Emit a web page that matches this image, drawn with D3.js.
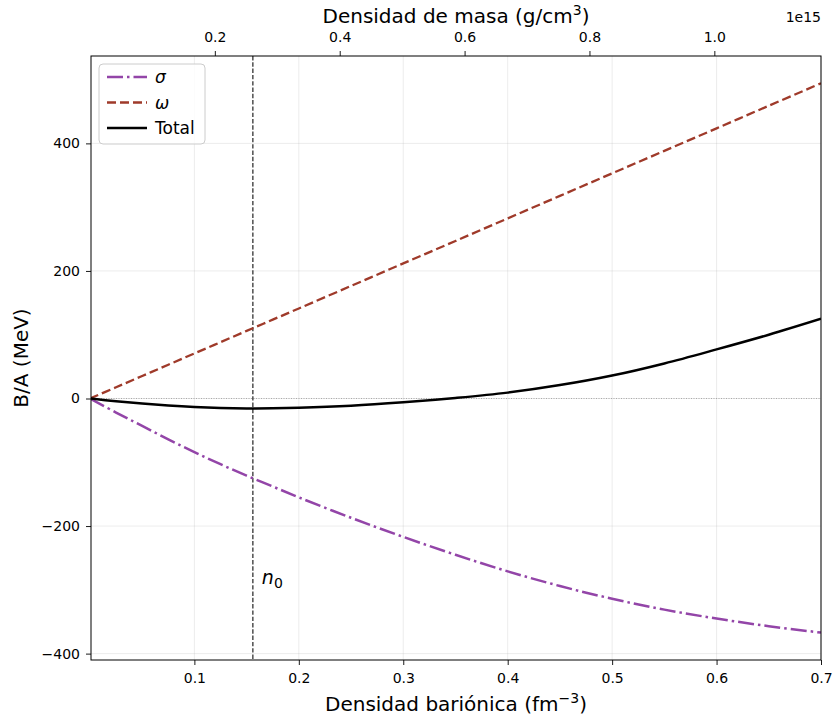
<!DOCTYPE html>
<html>
<head>
<meta charset="utf-8">
<script src="https://cdn.jsdelivr.net/npm/d3@7"></script>
<style>
  html, body { margin: 0; padding: 0; background: #fff; }
  svg { display: block; font-family: "DejaVu Sans", sans-serif; }
</style>
</head>
<body>
<div id="chart"></div>
<script>
// ---- Data ----
const density = [0, 0.025, 0.05, 0.075, 0.1, 0.125, 0.15, 0.175, 0.2, 0.25, 0.3, 0.35, 0.4, 0.45, 0.5, 0.55, 0.6, 0.65, 0.7];
const sigmaValues = [0, -22, -43, -64, -84, -103, -121, -138, -155, -187, -217, -245, -271, -294, -314, -331, -345, -357, -367];
const omegaValues = [0, 17.6, 35.3, 53, 70.6, 88.3, 106, 123.6, 141.2, 176.5, 211.8, 247, 282.4, 317.7, 353, 388.3, 423.6, 459, 494.2];
const totalValues = [0, -4.3, -8, -11, -13.3, -14.8, -15.5, -15.4, -14.6, -11.4, -6, 0.8, 9.2, 21, 36, 55, 77, 100, 125];
const seriesNames = ["σ", "ω", "Total"];
const xTicks = [0.1, 0.2, 0.3, 0.4, 0.5, 0.6, 0.7];
const yTicks = [-400, -200, 0, 200, 400];
const topTicks = [0.2, 0.4, 0.6, 0.8, 1.0];   // in units of 1e15 g/cm^3
const massFactor = 1.6726;                    // 1 fm^-3 -> 1.6726e15 g/cm^3
const n0 = 0.156;

// ---- Layout ----
const W = 834, H = 719;
const m = { left: 91, right: 13, top: 56, bottom: 59 };
const iw = W - m.left - m.right, ih = H - m.top - m.bottom;

const svg = d3.select("#chart").append("svg").attr("width", W).attr("height", H);
const g = svg.append("g").attr("transform", `translate(${m.left},${m.top})`);

const x = d3.scaleLinear().domain([0.001, 0.7]).range([0, iw]);
const y = d3.scaleLinear().domain([-410, 537]).range([ih, 0]);
const xTop = d3.scaleLinear().domain([0.001 * massFactor, 0.7 * massFactor]).range([0, iw]);

// grid
const grid = g.append("g");
grid.selectAll("line.vx").data(xTicks).join("line")
  .attr("x1", d => x(d)).attr("x2", d => x(d)).attr("y1", 0).attr("y2", ih)
  .attr("stroke", "#b0b0b0").attr("stroke-opacity", 0.3).attr("stroke-width", 0.8);
grid.selectAll("line.hy").data(yTicks).join("line")
  .attr("x1", 0).attr("x2", iw).attr("y1", d => y(d)).attr("y2", d => y(d))
  .attr("stroke", "#b0b0b0").attr("stroke-opacity", 0.3).attr("stroke-width", 0.8);

// zero line
g.append("line").attr("x1", 0).attr("x2", iw).attr("y1", y(0)).attr("y2", y(0))
  .attr("stroke", "#999").attr("stroke-width", 0.8).attr("stroke-dasharray", "1,1.5");

// n0 line
g.append("line").attr("x1", x(n0)).attr("x2", x(n0)).attr("y1", 0).attr("y2", ih)
  .attr("stroke", "#222").attr("stroke-width", 1.2).attr("stroke-dasharray", "4.4,1.9");

// curves
const series = [
  { name: seriesNames[0], values: sigmaValues, color: "#9345a8", width: 2.5, dash: "16,4,2.5,4" },
  { name: seriesNames[1], values: omegaValues, color: "#9f3a2a", width: 2.3, dash: "9,4" },
  { name: seriesNames[2], values: totalValues, color: "#000000", width: 2.5, dash: null }
];
const line = d3.line().x(d => x(d[0])).y(d => y(d[1])).curve(d3.curveCatmullRom.alpha(0.5));
const clip = svg.append("defs").append("clipPath").attr("id", "clip");
clip.append("rect").attr("width", iw).attr("height", ih);
const curves = g.append("g").attr("clip-path", "url(#clip)");
series.forEach(s => {
  curves.append("path")
    .datum(density.map((d, i) => [d, s.values[i]]))
    .attr("d", line)
    .attr("fill", "none")
    .attr("stroke", s.color)
    .attr("stroke-width", s.width)
    .attr("stroke-dasharray", s.dash);
});

// n0 label
const n0Label = g.append("text").attr("x", x(n0) + 9).attr("y", 528)
  .attr("font-size", 19).attr("fill", "#000");
n0Label.append("tspan").attr("font-style", "italic").text("n");
n0Label.append("tspan").attr("font-size", 14).attr("dy", 4).text("0");

// axes
const xAxis = d3.axisBottom(x).tickValues(xTicks).tickFormat(d3.format(".1f")).tickSize(5).tickPadding(8);
const yAxis = d3.axisLeft(y).tickValues(yTicks).tickFormat(d => d < 0 ? "\u2212" + Math.abs(d) : d).tickSize(5).tickPadding(6);
const topAxis = d3.axisTop(xTop).tickValues(topTicks).tickFormat(d3.format(".1f")).tickSize(5).tickPadding(9);

const gx = g.append("g").attr("transform", `translate(0,${ih})`).call(xAxis);
const gy = g.append("g").call(yAxis);
const gt = g.append("g").call(topAxis);
[gx, gy, gt].forEach(a => {
  a.selectAll("text").attr("font-size", 14).attr("font-family", "DejaVu Sans, sans-serif").attr("fill", "#000");
  a.select(".domain").remove();
  a.selectAll(".tick line").attr("stroke", "#000").attr("stroke-width", 0.9);
});

// frame
g.append("rect").attr("width", iw).attr("height", ih).attr("fill", "none")
  .attr("stroke", "#000").attr("stroke-width", 1);

// axis labels
const xl = svg.append("text").attr("x", m.left + iw / 2).attr("y", 711)
  .attr("text-anchor", "middle").attr("font-size", 20);
xl.append("tspan").text("Densidad bariónica (fm");
xl.append("tspan").attr("font-size", 14).attr("dy", -8).text("\u22123");
xl.append("tspan").attr("dy", 8).text(")");

const tl = svg.append("text").attr("x", m.left + iw / 2).attr("y", 23)
  .attr("text-anchor", "middle").attr("font-size", 20);
tl.append("tspan").text("Densidad de masa (g/cm");
tl.append("tspan").attr("font-size", 14).attr("dy", -8).text("3");
tl.append("tspan").attr("dy", 8).text(")");

svg.append("text").attr("x", 821).attr("y", 22).attr("text-anchor", "end")
  .attr("font-size", 14).text("1e15");

svg.append("text").attr("transform", `translate(28,${m.top + ih / 2}) rotate(-90)`)
  .attr("text-anchor", "middle").attr("font-size", 20).text("B/A (MeV)");

// legend
const lg = g.append("g").attr("transform", "translate(8,8)");
lg.append("rect").attr("width", 106).attr("height", 80).attr("rx", 4)
  .attr("fill", "#fff").attr("fill-opacity", 0.8).attr("stroke", "#cccccc").attr("stroke-width", 1);
series.forEach((s, i) => {
  const yy = 13 + i * 25.5;
  lg.append("line").attr("x1", 8).attr("x2", 48).attr("y1", yy).attr("y2", yy)
    .attr("stroke", s.color).attr("stroke-width", s.width).attr("stroke-dasharray", s.dash);
  lg.append("text").attr("x", 56).attr("y", yy + 6).attr("font-size", 17)
    .attr("font-style", i < 2 ? "italic" : "normal").text(s.name);
});
</script>
</body>
</html>
